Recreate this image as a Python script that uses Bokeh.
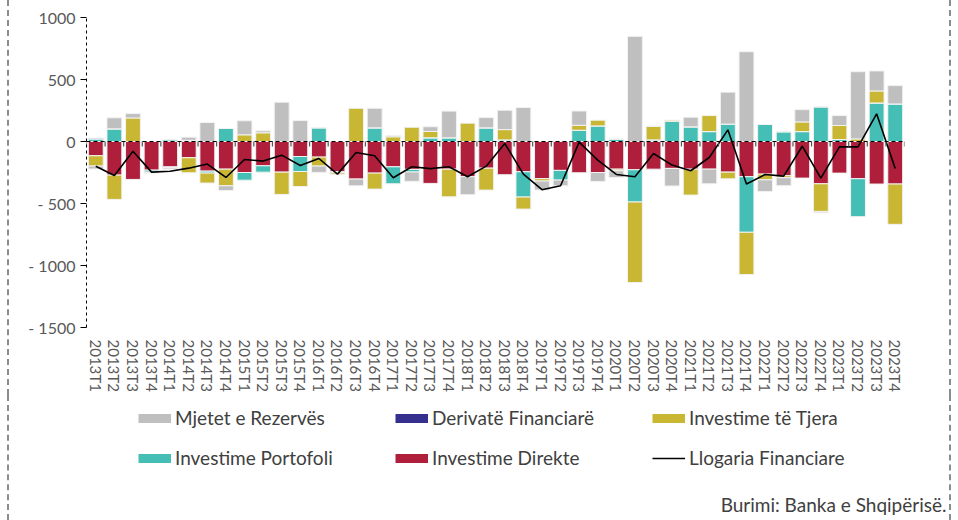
import math
from bokeh.plotting import figure
from bokeh.layouts import column
from bokeh.models import FactorRange, Range1d, FixedTicker, Span, Legend, LegendItem, Title
from bokeh.embed import file_html
from bokeh.resources import INLINE

quarters = ["2013T1", "2013T2", "2013T3", "2013T4", "2014T1", "2014T2", "2014T3", "2014T4",
            "2015T1", "2015T2", "2015T3", "2015T4", "2016T1", "2016T2", "2016T3", "2016T4",
            "2017T1", "2017T2", "2017T3", "2017T4", "2018T1", "2018T2", "2018T3", "2018T4",
            "2019T1", "2019T2", "2019T3", "2019T4", "2020T1", "2020T2", "2020T3", "2020T4",
            "2021T1", "2021T2", "2021T3", "2021T4", "2022T1", "2022T2", "2022T3", "2022T4",
            "2023T1", "2023T2", "2023T3", "2023T4"]

investime_direkte = [-115, -271, -306, -231, -205, -131, -239, -223,
                     -250, -196, -247, -121, -126, -244, -303, -255,
                     -204, -225, -338, -223, -284, -215, -268, -244,
                     -300, -233, -252, -250, -223, -228, -223, -217,
                     -223, -223, -247, -284, -263, -276, -295, -341,
                     -255, -300, -343, -343]
investime_portofoli = [20, 102, 0, -16, 14, 10, -16, 105,
                       -62, -51, 0, -121, 110, -8, 0, 110,
                       -137, -21, 30, 30, 0, 110, 13, -204,
                       0, -78, 91, 126, 19, -260, 13, 164,
                       118, 80, 140, -448, 137, 78, 80, 279,
                       16, -306, 311, 303]
derivate_financiare = [6, 0, 0, 0, 0, 0, 0, 0,
                       0, 0, 0, 0, 0, 0, 0, 0,
                       0, 0, 0, 0, 0, 0, 0, 0,
                       0, 0, 0, 0, 0, 0, 0, 0,
                       0, 0, 0, 0, 0, 0, 0, 0,
                       0, 0, 0, 0]
investime_tjera = [-83, -196, 190, -5, -4, -121, -80, -134,
                   54, 70, -180, -121, -72, -12, 268, -129,
                   38, 115, 51, -223, 148, -177, 83, -97,
                   -19, 0, 40, 46, -13, -649, 110, 8,
                   -209, 129, -54, -341, -46, -16, 78, -223,
                   113, 21, 97, -325]
mjetet_rezerves = [-24, 89, 35, -6, -12, 25, 153, -38,
                   113, 16, 317, 169, -51, 0, -54, 158,
                   11, -75, 38, 215, -145, 83, 156, 274,
                   -72, -46, 115, -72, -54, 848, 0, -142,
                   78, -118, 258, 724, -94, -64, 99, -11,
                   80, 542, 161, 148]
llogaria_financiare = [-199, -274, -78, -247, -240, -215, -182, -290,
                       -145, -158, -110, -193, -137, -263, -89, -115,
                       -292, -204, -219, -204, -284, -199, -16, -263,
                       -389, -357, -5, -150, -266, -284, -97, -190,
                       -236, -129, 94, -343, -266, -279, -38, -295,
                       -43, -43, 223, -217]

y_ticks = [-1500, -1000, -500, 0, 500, 1000]
y_tick_labels = ["- 1500", "- 1000", "- 500", "0", "500", "1000"]

FONT = "Lato"
TXT = "#595959"
BORDER = {"border-left": "2px dashed #8c8c8c", "border-right": "2px dashed #8c8c8c"}

# stacking order from zero outward
stack_series = [
    ("Investime Direkte", investime_direkte, "#AF1F3C"),
    ("Investime Portofoli", investime_portofoli, "#45BFB5"),
    ("Derivatë Financiarë", derivate_financiare, "#352F8D"),
    ("Investime të Tjera", investime_tjera, "#C9B734"),
    ("Mjetet e Rezervës", mjetet_rezerves, "#BFBFBF"),
]
colors = {name: c for name, _, c in stack_series}

W = 944
H1 = 395
H2 = 125

p = figure(x_range=FactorRange(factors=quarters, range_padding=0, factor_padding=0),
           y_range=Range1d(-1500, 1000),
           width=W, height=H1, output_backend="svg", toolbar_location=None,
           min_border_left=77, min_border_right=49, min_border_top=17, min_border_bottom=68)
p.styles = BORDER
p.outline_line_color = None
p.xgrid.visible = False
p.ygrid.visible = False
p.background_fill_color = None
p.border_fill_color = None

pos = [0.0] * len(quarters)
neg = [0.0] * len(quarters)
for name, vals, col in stack_series:
    bottoms, tops = [], []
    for i, v in enumerate(vals):
        if v >= 0:
            bottoms.append(pos[i]); tops.append(pos[i] + v); pos[i] += v
        else:
            bottoms.append(neg[i]); tops.append(neg[i] + v); neg[i] += v
    p.vbar(x=quarters, bottom=bottoms, top=tops, width=0.8, fill_color=col,
           line_color="#f2f2f2", line_width=1)

p.line(x=quarters, y=llogaria_financiare, line_color="black", line_width=1.6)

p.add_layout(Span(location=0, dimension="width", line_color="black", line_dash="4 3", line_width=1.2))
bounds = [float(i) for i in range(len(quarters) + 1)]
p.segment(x0=bounds, y0=[0] * len(bounds), x1=bounds, y1=[-40] * len(bounds),
          line_color="#555555", line_width=1.2)

# y axis
ya = p.yaxis[0]
ya.ticker = FixedTicker(ticks=y_ticks, minor_ticks=[])
ya.major_label_overrides = {t: l for t, l in zip(y_ticks, y_tick_labels)}
ya.axis_line_dash = "3 3"
ya.axis_line_color = "black"
ya.major_tick_line_color = "black"
ya.major_tick_out = 6
ya.major_tick_in = 0
ya.major_label_standoff = 5
ya.major_label_text_font = FONT
ya.major_label_text_font_size = "16px"
ya.major_label_text_color = TXT

# x axis
xa = p.xaxis[0]
xa.axis_line_color = None
xa.major_tick_line_color = None
xa.major_tick_out = 0
xa.major_tick_in = 0
xa.major_label_standoff = 12
xa.major_label_orientation = -math.pi / 2
xa.major_label_text_font = FONT
xa.major_label_text_font_size = "15px"
xa.major_label_text_color = TXT

# ---- legend + source strip (its frame is aligned with the chart frame) ----
p2 = figure(width=W, height=H2, x_range=Range1d(0, 1), y_range=Range1d(0, 1),
            output_backend="svg", toolbar_location=None,
            x_axis_type=None, y_axis_type=None, min_border=0)
p2.styles = BORDER
p2.outline_line_color = None
p2.xgrid.visible = False
p2.ygrid.visible = False
p2.background_fill_color = None
p2.border_fill_color = None

nan = float("nan")
sw = {}
for name in ["Mjetet e Rezervës", "Derivatë Financiarë", "Investime të Tjera",
             "Investime Portofoli", "Investime Direkte"]:
    sw[name] = p2.line(x=[nan], y=[nan], line_color=colors[name], line_width=9)
sw["Llogaria Financiare"] = p2.line(x=[nan], y=[nan], line_color="black", line_width=1.6)

legend_columns = [
    (52, ["Mjetet e Rezervës", "Investime Portofoli"]),
    (309, ["Derivatë Financiarë", "Investime Direkte"]),
    (566, ["Investime të Tjera", "Llogaria Financiare"]),
]
for x, names in legend_columns:
    leg = Legend(items=[LegendItem(label=n, renderers=[sw[n]]) for n in names],
                 location=(x, 16), orientation="vertical",
                 glyph_width=33, glyph_height=20, label_height=20, spacing=17,
                 padding=0, margin=0, label_standoff=4,
                 border_line_color=None, background_fill_alpha=0,
                 label_text_font=FONT, label_text_font_size="19px", label_text_color="#404040")
    p2.add_layout(leg, "center")

p2.add_layout(Title(text="Burimi: Banka e Shqipërisë.", align="right", offset=-42,
                    standoff=10, text_font=FONT, text_font_size="19px",
                    text_font_style="normal", text_color="#404040"), "below")

layout = column(p, p2, spacing=0)
layout.margin = (0, 0, 0, 7)
open("out.html", "w").write(file_html(layout, INLINE))
